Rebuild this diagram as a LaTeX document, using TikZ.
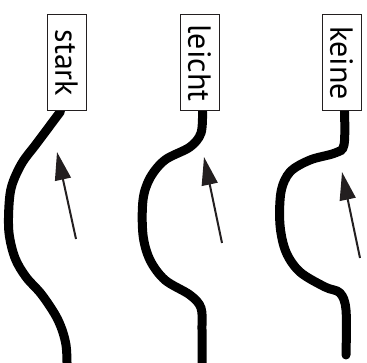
\documentclass[tikz,border=0pt]{standalone}
\usepackage{fontspec}
\setmainfont{PT Sans}
\usepackage{xcolor}
\usepackage{tikz}
\usetikzlibrary{arrows.meta, backgrounds}

\definecolor{inkdark}{HTML}{231F20}

\begin{document}
\begin{tikzpicture}[
    x=1pt, y=-1pt,
    >={Triangle[length=28pt,width=16pt]},
    tag/.style={
        rectangle,
        draw=inkdark,
        fill=white,
        line width=1pt,
        rotate=-90,
        minimum width=96pt,
        minimum height=39pt,
        inner sep=0pt,
        font=\fontsize{32}{36}\selectfont
    },
    road/.style={
        line width=9pt,
        line cap=round,
        draw=black
    },
    push/.style={
        ->,
        line width=2pt,
        draw=inkdark,
        fill=inkdark
    }
]

\useasboundingbox (0,0) rectangle (367,363);

% --- Labels ------------------------------------------------------------------

\node[tag] (stark) at (66.5,63) {stark};
\node[tag] (leicht) at (199.5,63) {leicht};
\node[tag] (keine) at (341.5,63) {keine};

% --- Arrow ends --------------------------------------------------------------

\coordinate (starkfrom) at (76,239);
\coordinate (starkto) at (57,152);
\coordinate (leichtfrom) at (222,243);
\coordinate (leichtto) at (204,157);
\coordinate (keinefrom) at (360,258);
\coordinate (keineto) at (342,172);

% --- Roads -------------------------------------------------------------------

\begin{scope}[on background layer]
    \draw[road] plot[smooth, tension=0.55] coordinates {([xshift=-6pt]stark.east)
        (37,143) (22,163) (12,185) (9,205) (9,233) (15,258) (26,277) (42,295)
        (58,320) (66,345) (67,375)};
    \draw[road] plot[smooth, tension=0.55] coordinates {([xshift=3pt]leicht.east)
        (201,133) (190,147) (165,160) (150,178) (143,200) (143,235) (150,260)
        (165,280) (190,295) (201,308) (202,330) (202,375)};
    \draw[road] plot[smooth, tension=0.55] coordinates {([xshift=3pt]keine.east)
        (344,145) (335,153) (310,160) (290,172) (281,192) (280,225) (286,252)
        (300,272) (325,287) (340,293) (346,310) (346,355)};
\end{scope}

% --- Arrows ------------------------------------------------------------------

\draw[push] (starkfrom) -- (starkto);
\draw[push] (leichtfrom) -- (leichtto);
\draw[push] (keinefrom) -- (keineto);

\end{tikzpicture}
\end{document}
